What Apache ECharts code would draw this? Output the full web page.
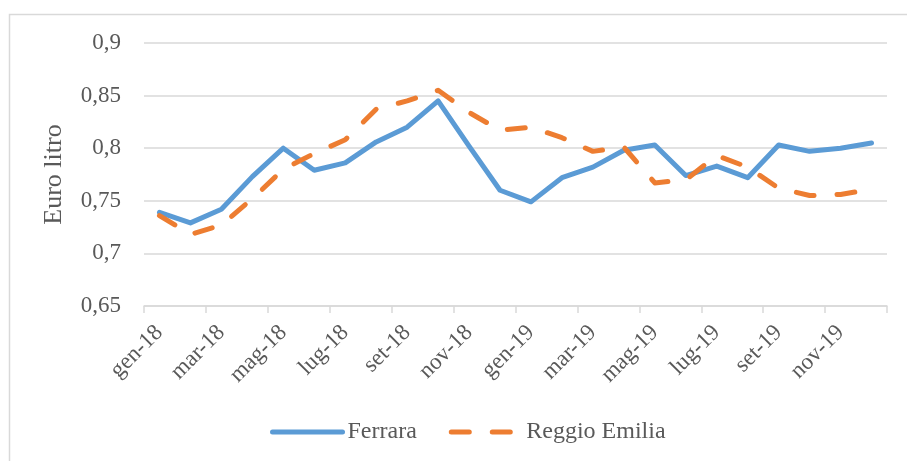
<!DOCTYPE html>
<html>
<head>
<meta charset="utf-8">
<script src="https://cdn.jsdelivr.net/npm/echarts@6/dist/echarts.min.js"></script>
<style>html,body{margin:0;padding:0;background:#fff;}#c{width:907px;height:461px;}</style>
</head>
<body>
<div id="c"></div>
<script>
var months = ['gen-18','feb-18','mar-18','apr-18','mag-18','giu-18','lug-18','ago-18','set-18','ott-18','nov-18','dic-18',
              'gen-19','feb-19','mar-19','apr-19','mag-19','giu-19','lug-19','ago-19','set-19','ott-19','nov-19','dic-19'];
var ferrara = [0.739,0.729,0.742,0.773,0.800,0.779,0.786,0.806,0.820,0.845,0.802,0.760,
               0.749,0.772,0.782,0.798,0.803,0.774,0.783,0.772,0.803,0.797,0.800,0.805];
var reggioEmilia = [0.736,0.718,0.727,0.752,0.780,0.795,0.808,0.837,0.845,0.855,0.834,0.817,
                    0.820,0.810,0.797,0.801,0.767,0.770,0.793,0.782,0.762,0.755,0.756,0.761];
var yTicks = ['0,65','0,7','0,75','0,8','0,85','0,9'];
var seriesNames = ['Ferrara','Reggio Emilia'];

var font = "'Liberation Serif','Times New Roman',serif";
var txt = '#595959';
var gridC = '#d9d9d9';
var chart = echarts.init(document.getElementById('c'));
chart.setOption({
  animation: false,
  backgroundColor: '#fff',
  graphic: [{
    type: 'rect', silent: true,
    shape: {x: 9.5, y: 14.5, width: 1000, height: 1000},
    style: {fill: 'none', stroke: gridC, lineWidth: 1.5}
  }],
  grid: {left: 144, right: 20, top: 43, bottom: 155},
  legend: {
    left: 265, top: 415,
    itemWidth: 70, itemHeight: 14, itemGap: 32,
    textStyle: {fontFamily: font, fontSize: 24, color: txt},
    lineStyle: {width: 5, cap: 'round'},
    itemStyle: {opacity: 0},
    data: seriesNames
  },
  xAxis: {
    type: 'category', data: months, boundaryGap: true,
    axisLine: {lineStyle: {color: gridC, width: 1.5}},
    axisTick: {show: true, interval: 1, length: 7, lineStyle: {color: gridC, width: 1.5}},
    axisLabel: {interval: 1, rotate: 45, margin: 23, fontFamily: font, fontSize: 23, color: txt}
  },
  yAxis: {
    type: 'value', min: 0.65, max: 0.9, interval: 0.05,
    name: 'Euro litro', nameLocation: 'middle', nameGap: 77,
    nameTextStyle: {fontFamily: font, fontSize: 26, color: txt},
    axisLine: {show: false}, axisTick: {show: false},
    axisLabel: {margin: 23, fontFamily: font, fontSize: 23, color: txt,
      formatter: function (v) { return yTicks[Math.round((v - 0.65) / 0.05)]; }},
    splitLine: {lineStyle: {color: gridC, width: 1.5}}
  },
  series: [{
    name: seriesNames[0], type: 'line', data: ferrara, symbol: 'none',
    lineStyle: {color: '#5B9BD5', width: 5, cap: 'round', join: 'round'},
    itemStyle: {color: '#5B9BD5'}
  }, {
    name: seriesNames[1], type: 'line', data: reggioEmilia, symbol: 'none',
    lineStyle: {color: '#ED7D31', width: 5, type: [18, 23], cap: 'round', join: 'round'},
    itemStyle: {color: '#ED7D31'}
  }]
});
</script>
</body>
</html>
